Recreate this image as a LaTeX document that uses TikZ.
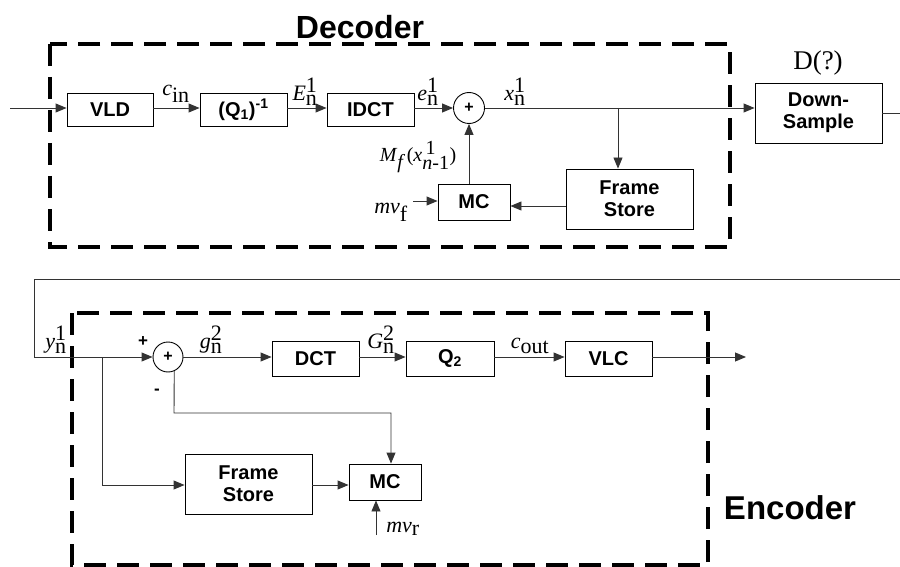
\documentclass[tikz,border=0pt]{standalone}
\usepackage{fontspec}
\setmainfont{Liberation Serif}
\newfontfamily\arial{Liberation Sans}
\usetikzlibrary{arrows.meta,calc}
\tikzset{
  blk/.style={draw, line width=0.9pt, font=\arial\bfseries\fontsize{20}{22}\selectfont, inner sep=0pt, align=center},
  sumc/.style={draw, circle, line width=0.9pt, minimum size=31pt, inner sep=0pt, font=\arial\bfseries\fontsize{16}{16}\selectfont},
  wire/.style={line width=0.9pt, draw=black!80},
  arr/.style={wire, -{Triangle[length=11pt,width=9pt]}},
  dbox/.style={draw, line width=3.6pt, dash pattern=on 22pt off 11pt},
  lbl/.style={inner sep=0pt, font=\fontsize{22}{24}\selectfont},
  ttl/.style={inner sep=0pt, font=\arial\bfseries\fontsize{32}{34}\selectfont},
  sgn/.style={inner sep=0pt, font=\arial\bfseries\fontsize{17}{18}\selectfont}
}
\begin{document}
\begin{tikzpicture}[x=1pt,y=-1pt]
\useasboundingbox (0,0) rectangle (900,567);
% ---------- Decoder ----------
\node[ttl] (dectitle) at (360,27) {Decoder};
\draw[dbox] (50,44) rectangle (730,247);
\coordinate (in) at (10,108);
\node[blk, minimum width=86pt, minimum height=33pt] (vld) at (110,109.5) {VLD};
\node[blk, minimum width=87pt, minimum height=33pt] (qinv) at (243.5,109.5) {(Q\textsubscript{1})\textsuperscript{-1}};
\node[blk, minimum width=87pt, minimum height=33pt] (idct) at (370.5,109.5) {IDCT};
\node[sumc] (sum1) at (469,108) {+};
\node[blk, minimum width=72pt, minimum height=36pt] (mc1) at (474,202) {MC};
\node[blk, minimum width=127pt, minimum height=60pt] (fs1) at (629.5,199) {Frame\\Store};
\node[blk, minimum width=127pt, minimum height=60pt] (ds) at (818.5,113) {Down-\\Sample};
\coordinate (br1) at (618,108);
\coordinate (out1) at (900,113);
\coordinate (mvf) at (413,201);

\draw[arr] (in) -- (in -| vld.west);
\draw[arr] (vld.east |- in) -- (qinv.west |- in);
\draw[arr] (qinv.east |- in) -- (idct.west |- in);
\draw[arr] (idct.east |- in) -- (sum1.west);
\draw[arr] (sum1.east) -- (sum1 -| ds.west);
\draw[arr] (br1) -- (br1 |- fs1.north);
\draw[arr] (fs1.west |- 0,206) -- (mc1.east |- 0,206);
\draw[arr] (sum1 |- mc1.north) -- (sum1.south);
\draw[arr] (mvf) -- (mvf -| mc1.west);
\draw[wire] (ds.east |- out1) -- (out1);

\node[lbl] (cin) at (176,94) {\textit{c}$_{\textnormal{in}}$};
\node[lbl] (e1) at (305,92) {\textit{E}$^{\textnormal{1}}_{\textnormal{n}}$};
\node[lbl] (ee1) at (428,92) {\textit{e}$^{\textnormal{1}}_{\textnormal{n}}$};
\node[lbl] (xn) at (515,92) {\textit{x}$^{\textnormal{1}}_{\textnormal{n}}$};
\node[lbl, font=\fontsize{20}{22}\selectfont] (mf) at (418,157) {\textit{M}$_{\textit{f}}$\,(\textit{x}$^{\textnormal{\,1}}_{\textit{n}\textnormal{-1}}$)};
\node[lbl] (mvflbl) at (391,212) {\textit{mv}$_{\textnormal{f}}$};
\node[lbl, font=\fontsize{27}{29}\selectfont] (dq) at (818,63) {D(?)};

% ---------- Encoder ----------
\coordinate (tr) at (900,279);
\coordinate (tl) at (34,279);
\coordinate (yl) at (34,357);
\draw[dbox] (72,313) rectangle (708,565);
\node[ttl, font=\arial\bfseries\fontsize{33}{35}\selectfont] (enctitle) at (790,508) {Encoder};
\node[sumc, minimum size=30pt] (sum2) at (168,357) {+};
\node[blk, minimum width=87pt, minimum height=35pt] (dct) at (315.5,358.5) {DCT};
\node[blk, minimum width=88pt, minimum height=35pt] (q2) at (450,358.5) {Q\textsubscript{2}};
\node[blk, minimum width=87pt, minimum height=35pt] (vlc) at (608.5,358.5) {VLC};
\node[blk, minimum width=127pt, minimum height=60pt] (fs2) at (248.5,484) {Frame\\Store};
\node[blk, minimum width=72pt, minimum height=36pt] (mc2) at (385,482) {MC};
\coordinate (br2) at (102,357);
\coordinate (out2) at (746,357);
\coordinate (fb) at (174,413);
\coordinate (mvr) at (376,535);

\draw[wire] (tr) -- (tl) -- (yl);
\draw[arr] (yl) -- (sum2.west);
\draw[arr] (sum2.east) -- (sum2 -| dct.west);
\draw[arr] (dct.east |- sum2) -- (q2.west |- sum2);
\draw[arr] (q2.east |- sum2) -- (vlc.west |- sum2);
\draw[arr] (vlc.east |- sum2) -- (out2);
\draw[arr] (br2) -- (br2 |- 0,485) -- (fs2.west |- 0,485);
\draw[arr] (fs2.east |- 0,485) -- (mc2.west |- 0,485);
\draw[arr] (sum2.-66) -- (fb) -- ([xshift=6pt]mc2.north |- fb) -- ([xshift=6pt]mc2.north);
\draw[arr] (mvr) -- (mvr |- mc2.south);

\node[lbl] (yn) at (56,340) {\textit{y}$^{\textnormal{1}}_{\textnormal{n}}$};
\node[sgn] (plus) at (143,342) {+};
\node[sgn] (minus) at (157,392) {-};
\node[lbl] (gn) at (211,340) {\textit{g}$^{\textnormal{2}}_{\textnormal{n}}$};
\node[lbl] (Gn) at (381,340) {\textit{G}$^{\textnormal{2}}_{\textnormal{n}}$};
\node[lbl] (cout) at (530,346) {\textit{c}$_{\textnormal{out}}$};
\node[lbl] (mvrlbl) at (403,529) {\textit{mv}$_{\textnormal{r}}$};
\end{tikzpicture}
\end{document}
